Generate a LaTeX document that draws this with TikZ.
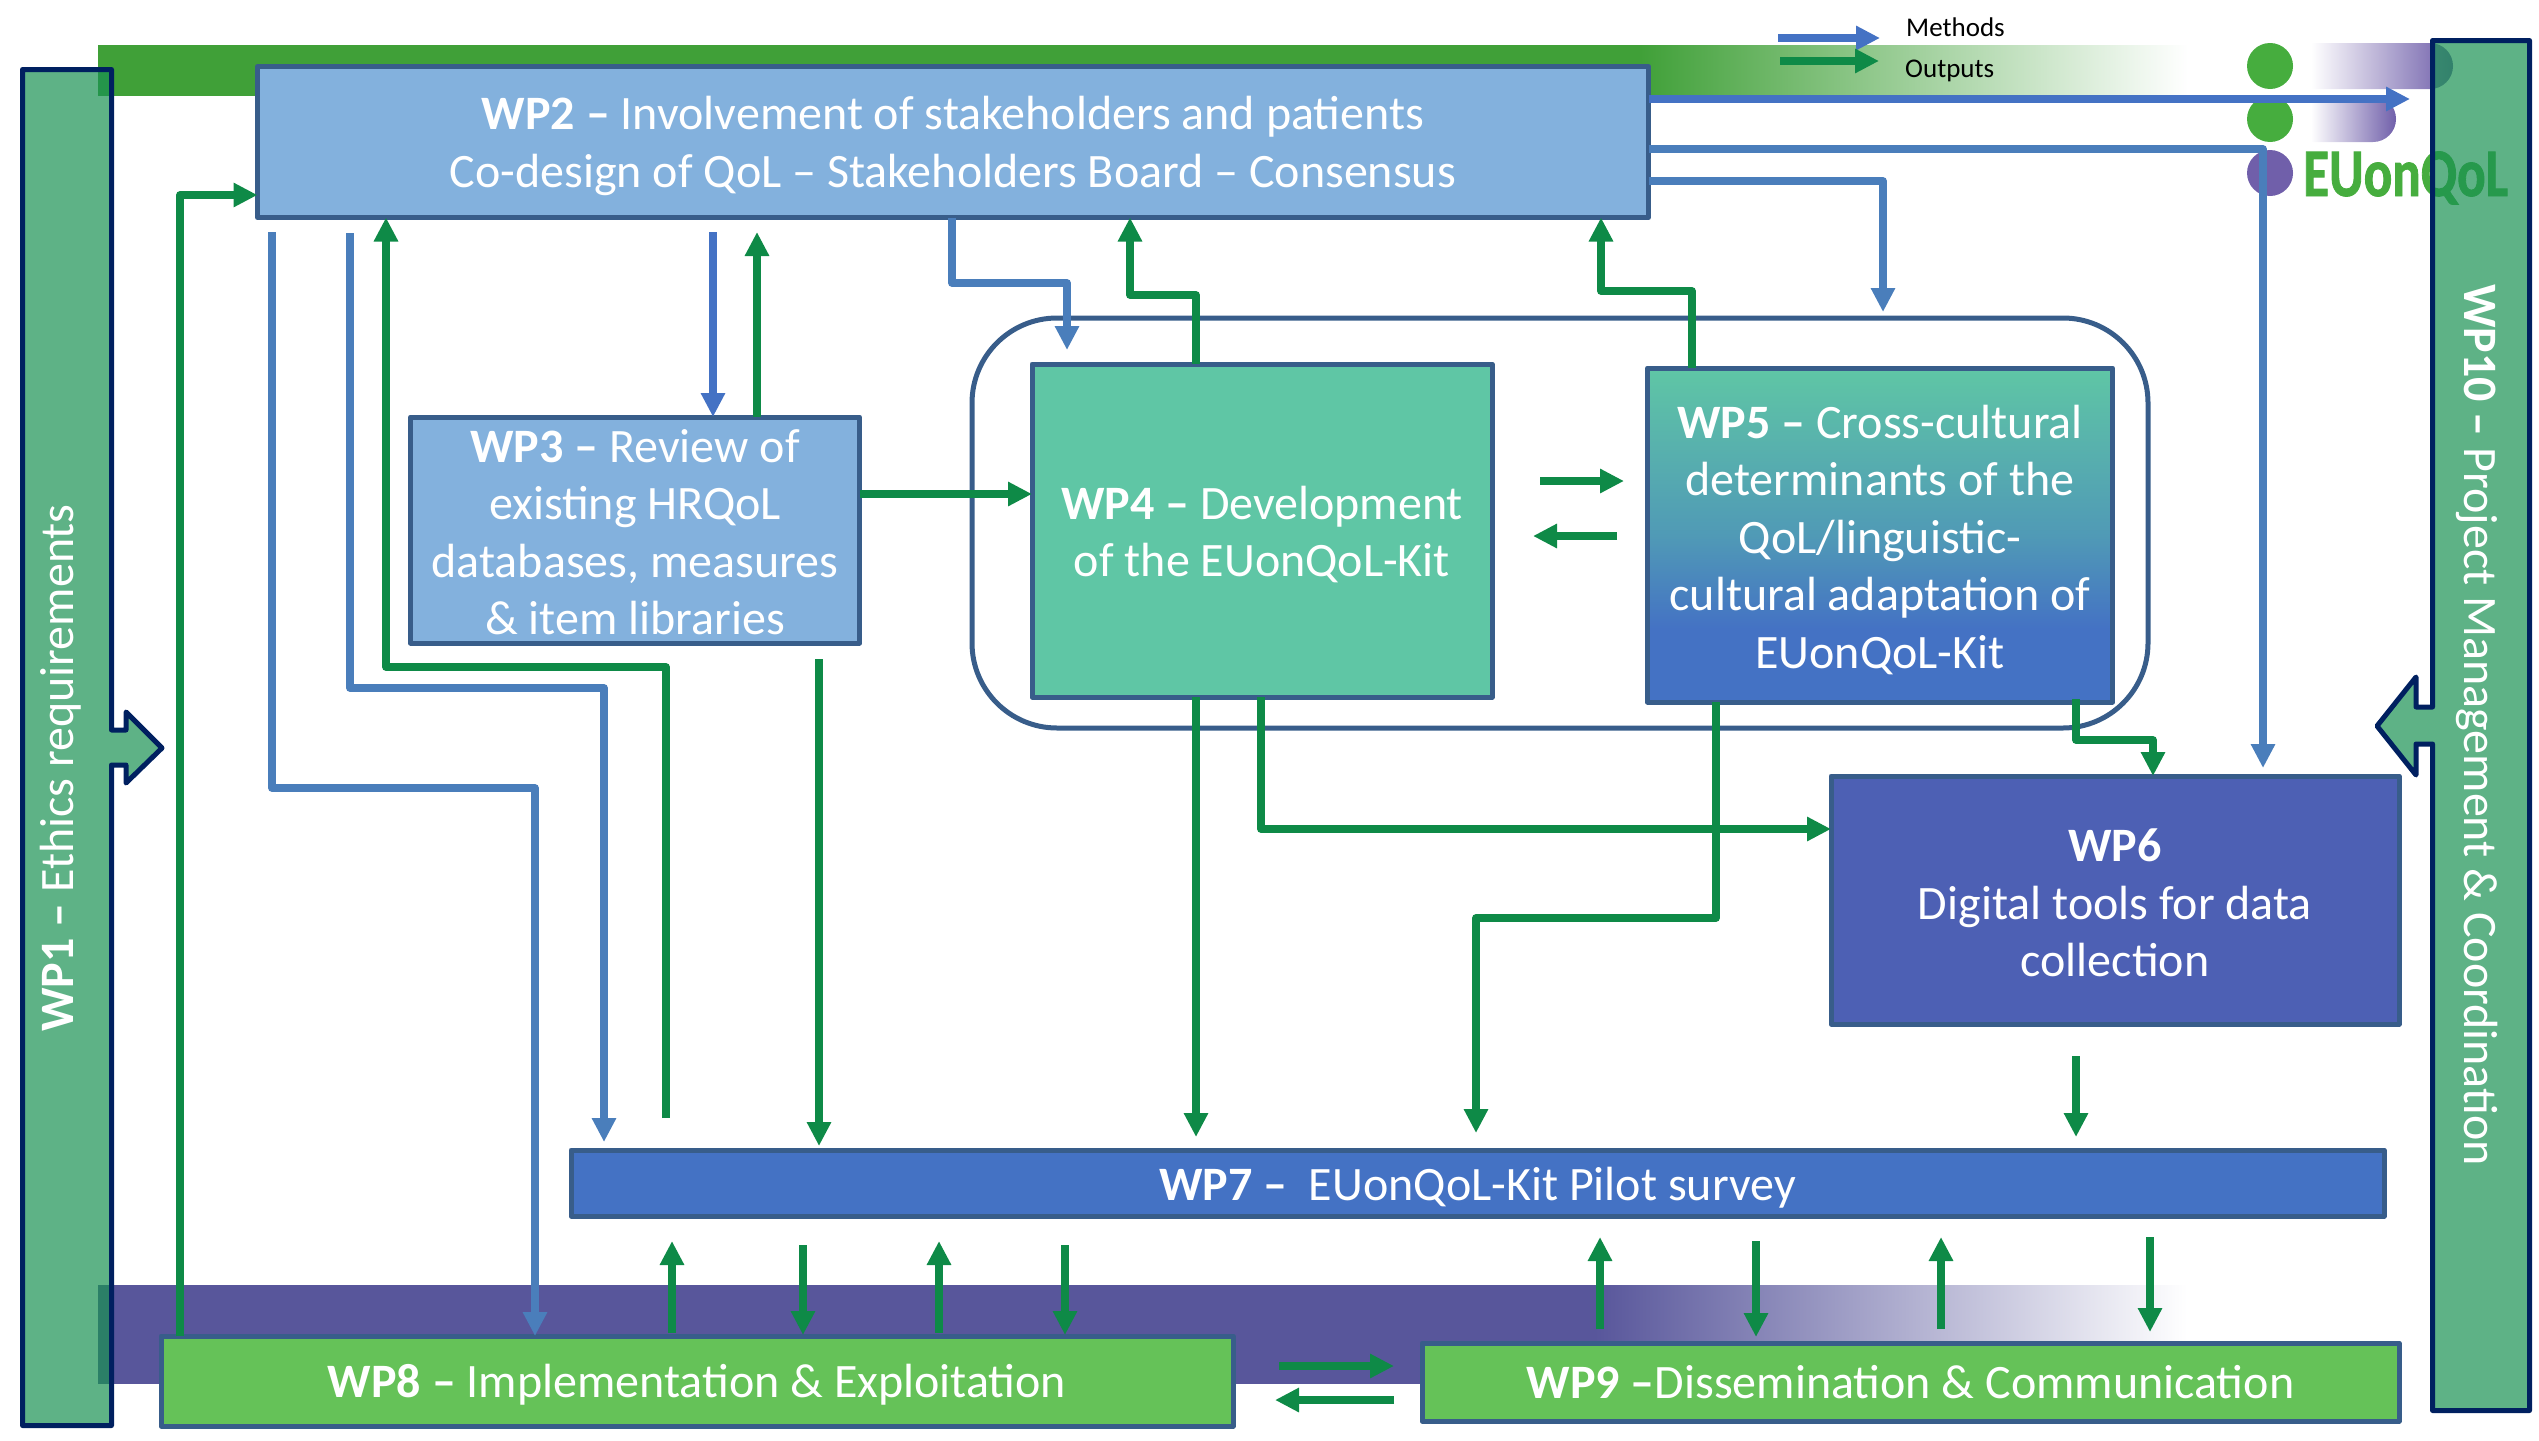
\documentclass[tikz,border=0pt]{standalone}
\usepackage{fontspec}
\setmainfont{Carlito}
\newfontfamily\logofont[FakeStretch=0.78,BoldFeatures={FakeBold=1.2}]{Carlito}
\newcommand\fl[1]{\rule{0pt}{\dimexpr 36pt+#1pt+#1pt\relax}}
\usetikzlibrary{arrows.meta}
\definecolor{bandgreen}{RGB}{64,160,56}
\definecolor{bandpurple}{RGB}{88,86,155}
\definecolor{logogreen}{RGB}{70,173,62}
\definecolor{logopurple}{RGB}{112,95,170}
\definecolor{edge}{HTML}{385D8A}
\definecolor{navy}{HTML}{002060}
\definecolor{barfill}{RGB}{25,145,82}
\definecolor{lightblue}{HTML}{83B1DD}
\definecolor{teal}{HTML}{5FC6A5}
\definecolor{wpsix}{HTML}{4D60B4}
\definecolor{wpseven}{HTML}{4472C4}
\definecolor{wpgreen}{HTML}{65C258}
\definecolor{methA}{HTML}{4472C4}
\definecolor{methB}{HTML}{4A7EBB}
\definecolor{outp}{HTML}{0E8A47}
\definecolor{fivemid}{RGB}{80,154,182}
\pgfdeclareverticalshading{wpfive}{100bp}{color(0bp)=(wpseven); color(36bp)=(wpseven); color(50bp)=(fivemid); color(75bp)=(teal); color(100bp)=(teal)}
\tikzset{
  box/.style={draw=edge,line width=5pt,inner sep=0pt,outer sep=0pt,text=white,align=center,line join=round,
     font=\fontsize{48}{57.5}\selectfont},
  tip/.style={-{Triangle[length=24pt,width=23pt]},line join=round},
  bluea/.style={tip,draw=methA,line width=8pt},
  blueb/.style={tip,draw=methB,line width=7.5pt},
  greena/.style={tip,draw=outp,line width=7.5pt},
  bar/.style={draw=navy,line width=5pt,line join=round,fill=barfill,fill opacity=.7},
  bartext/.style={text=white,inner sep=0pt,font=\fontsize{48}{57.5}\selectfont},
  legend/.style={text=black,inner sep=0pt,font=\fontsize{27}{30}\selectfont}
}
\begin{document}
\begin{tikzpicture}[x=1pt,y=-1pt]
\useasboundingbox (0,0) rectangle (2539,1440);
% bands
\fill[bandgreen] (98,45) rectangle (1642,96);
\shade[left color=bandgreen,right color=white] (1640,45) rectangle (2188,96);
\fill[bandpurple] (98,1285) rectangle (1597,1384);
\shade[left color=bandpurple,right color=white] (1595,1285) rectangle (2187,1384);
% logo
\fill[logogreen] (2270,66) circle (23);
\fill[logogreen] (2270,119) circle (23);
\fill[logopurple] (2270,173) circle (23);
\shade[left color=white,right color=logopurple] (2311,43) -- (2430,43) [rounded corners=23pt] -- (2453,43) -- (2453,89) [sharp corners] -- (2311,89) -- cycle;
\shade[left color=white,right color=logopurple] (2311,96) -- (2373,96) [rounded corners=23pt] -- (2396,96) -- (2396,142) [sharp corners] -- (2311,142) -- cycle;
\node[anchor=base west,inner sep=0pt,text=logogreen] (logo) at (2303,196) {\logofont\fontsize{68}{70}\selectfont\bfseries EUonQoL};
% legend
\coordinate (la) at (1778,38); \coordinate (lb) at (1880,38);
\coordinate (lc) at (1780,61); \coordinate (ld) at (1879,61);
\draw[bluea] (la) -- (lb);
\draw[greena] (lc) -- (ld);
\node[legend,anchor=base west] (methods) at (1906,36) {Methods};
\node[legend,anchor=base west] (outputs) at (1905,77) {Outputs};
% boxes
\node[box,minimum width=1176pt,minimum height=410pt,rounded corners=85pt] (wrap) at (1560,523) {};
\node[box,fill=lightblue,minimum width=1391pt,minimum height=151pt] (wp2) at (953,142)
  {\fl{2.5}\textbf{WP2 –} Involvement of stakeholders and patients\\Co-design of QoL – Stakeholders Board – Consensus};
\node[box,fill=lightblue,minimum width=449pt,minimum height=226pt] (wp3) at (635,530)
  {\fl{0.5}\textbf{WP3 –} Review of\\existing HRQoL\\databases, measures\\\& item libraries};
\node[box,fill=teal,minimum width=460pt,minimum height=333pt] (wp4) at (1262,530.5)
  {\fl{2.5}\textbf{WP4 –} Development\\of the EUonQoL-Kit};
\node[box,shade,shading=wpfive,minimum width=465pt,minimum height=334pt] (wp5) at (1880,535)
  {\fl{3.5}\textbf{WP5 –} Cross-cultural\\determinants of the\\QoL/linguistic-\\cultural adaptation of\\EUonQoL-Kit};
\node[box,fill=wpsix,minimum width=568pt,minimum height=248pt] (wp6) at (2115,900)
  {\fl{1.5}\textbf{WP6}\\Digital tools for data\\collection};
\node[box,fill=wpseven,minimum width=1813pt,minimum height=66pt] (wp7) at (1477.5,1183)
  {\fl{3}\textbf{WP7 –}\ \ EUonQoL-Kit Pilot survey};
\node[box,fill=wpgreen,minimum width=1072pt,minimum height=90pt] (wp8) at (697,1381)
  {\fl{2.5}\textbf{WP8 –} Implementation \& Exploitation};
\node[box,fill=wpgreen,minimum width=977pt,minimum height=78pt] (wp9) at (1910.5,1382)
  {\textbf{WP9 –}Dissemination \& Communication};
% blue connectors
\coordinate (b1) at (2410,99);
\draw[bluea] (wp2.east |- b1) -- (b1);
\coordinate (b2a) at (2263,149); \coordinate (b2b) at (2263,768);
\draw[blueb] (wp2.east |- b2a) -- (b2a) -- (b2b);
\coordinate (b3a) at (1883,181); \coordinate (b3b) at (1883,312);
\draw[blueb] (wp2.east |- b3a) -- (b3a) -- (b3b);
\coordinate (b4a) at (952,283); \coordinate (b4b) at (1067,283); \coordinate (b4c) at (1067,350);
\draw[blueb] (wp2.south -| b4a) -- (b4a) -- (b4b) -- (b4c);
\coordinate (b5a) at (272,232); \coordinate (b5b) at (272,788); \coordinate (b5c) at (535,788);
\draw[blueb] (b5a) -- (b5b) -- (b5c) -- (wp8.north -| b5c);
\coordinate (b6a) at (350,233); \coordinate (b6b) at (350,688); \coordinate (b6c) at (604,688); \coordinate (b6d) at (604,1142);
\draw[blueb] (b6a) -- (b6b) -- (b6c) -- (b6d);
\coordinate (b7) at (713,232);
\draw[bluea] (b7) -- (wp3.north -| b7);
% green connectors
\coordinate (g1a) at (180,195);
\draw[greena] (wp8.north -| g1a) -- (g1a) -- (wp2.west |- g1a);
\coordinate (g2a) at (666,1118); \coordinate (g2b) at (666,667); \coordinate (g2c) at (386,667);
\draw[greena] (g2a) -- (g2b) -- (g2c) -- (wp2.south -| g2c);
\coordinate (g3) at (757,232);
\draw[greena] (wp3.north -| g3) -- (g3);
\coordinate (g4) at (860,494);
\draw[greena] (wp3.east |- g4) -- (wp4.west |- g4);
\coordinate (g5a) at (819,659); \coordinate (g5b) at (819,1146);
\draw[greena] (g5a) -- (g5b);
\coordinate (g6a) at (1196,295); \coordinate (g6b) at (1130,295);
\draw[greena] (wp4.north -| g6a) -- (g6a) -- (g6b) -- (wp2.south -| g6b);
\coordinate (g7a) at (1692,291); \coordinate (g7b) at (1601,291);
\draw[greena] (wp5.north -| g7a) -- (g7a) -- (g7b) -- (wp2.south -| g7b);
\coordinate (g8) at (1196,1137);
\draw[greena] (wp4.south -| g8) -- (g8);
\coordinate (g9) at (1261,829);
\draw[greena] (wp4.south -| g9) -- (g9) -- (wp6.west |- g9);
\coordinate (g10a) at (1716,918); \coordinate (g10b) at (1476,918); \coordinate (g10c) at (1476,1133);
\draw[greena] (wp5.south -| g10a) -- (g10a) -- (g10b) -- (g10c);
\coordinate (g11a) at (2076,699); \coordinate (g11b) at (2076,740); \coordinate (g11c) at (2153,740);
\draw[greena] (g11a) -- (g11b) -- (g11c) -- (wp6.north -| g11c);
\coordinate (g12a) at (2076,1056); \coordinate (g12b) at (2076,1137);
\draw[greena] (g12a) -- (g12b);
\coordinate (p1a) at (1540,481); \coordinate (p1b) at (1624,481);
\draw[greena] (p1a) -- (p1b);
\coordinate (p2a) at (1617,536); \coordinate (p2b) at (1533,536);
\draw[greena] (p2a) -- (p2b);
\coordinate (u1a) at (672,1333); \coordinate (u1b) at (672,1241);
\draw[greena] (u1a) -- (u1b);
\coordinate (u2a) at (803,1245); \coordinate (u2b) at (803,1335);
\draw[greena] (u2a) -- (u2b);
\coordinate (u3a) at (939,1333); \coordinate (u3b) at (939,1241);
\draw[greena] (u3a) -- (u3b);
\coordinate (u4a) at (1065,1245); \coordinate (u4b) at (1065,1335);
\draw[greena] (u4a) -- (u4b);
\coordinate (u5a) at (1600,1329); \coordinate (u5b) at (1600,1237);
\draw[greena] (u5a) -- (u5b);
\coordinate (u6a) at (1756,1241); \coordinate (u6b) at (1756,1337);
\draw[greena] (u6a) -- (u6b);
\coordinate (u7a) at (1941,1329); \coordinate (u7b) at (1941,1237);
\draw[greena] (u7a) -- (u7b);
\coordinate (u8a) at (2150,1237); \coordinate (u8b) at (2150,1332);
\draw[greena] (u8a) -- (u8b);
\coordinate (v1a) at (1279,1366); \coordinate (v1b) at (1394,1366);
\draw[greena] (v1a) -- (v1b);
\coordinate (v2a) at (1394,1400); \coordinate (v2b) at (1275,1400);
\draw[greena] (v2a) -- (v2b);
% side bars
\draw[bar] (22.5,69.5) -- (111.5,69.5) -- (111.5,730) -- (126,730) -- (126,712) -- (162,748) -- (126,783) -- (126,765) -- (111.5,765) -- (111.5,1425.5) -- (22.5,1425.5) -- cycle;
\node[bartext,rotate=90] (wp1) at (61,768) {\textbf{WP1 –} Ethics requirements};
\draw[bar] (2432.5,40.5) -- (2529.5,40.5) -- (2529.5,1410.5) -- (2432.5,1410.5) -- (2432.5,744) -- (2416,744) -- (2416,775) -- (2377,726) -- (2416,677) -- (2416,707) -- (2432.5,707) -- cycle;
\node[bartext,rotate=-90] (wp10) at (2477,725) {\textbf{WP10 –} Project Management \& Coordination};
\end{tikzpicture}
\end{document}
